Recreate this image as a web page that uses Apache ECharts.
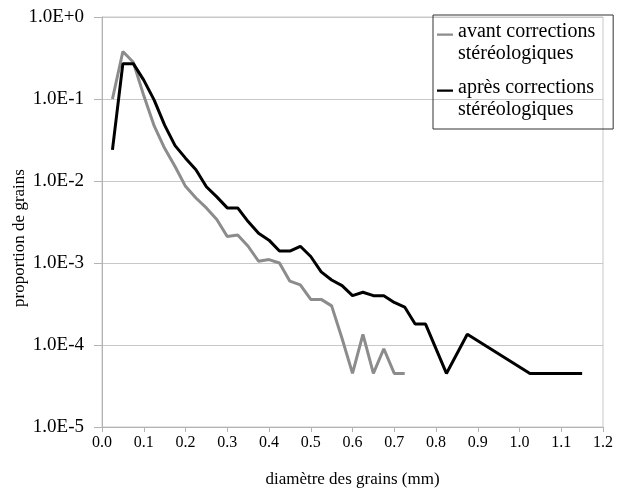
<!DOCTYPE html>
<html>
<head>
<meta charset="utf-8">
<script src="https://cdn.jsdelivr.net/npm/echarts@6/dist/echarts.min.js"></script>
<style>
  html, body { margin: 0; padding: 0; background: #fff; }
  #chart { width: 624px; height: 491px; }
</style>
</head>
<body>
<div id="chart"></div>
<script>
// grain diameter (mm) and proportion, before stereological corrections
const avantX = [0.025, 0.05, 0.075, 0.1, 0.125, 0.15, 0.175, 0.2, 0.225, 0.25, 0.275, 0.3, 0.325, 0.35, 0.375, 0.4, 0.425, 0.45, 0.475, 0.5, 0.525, 0.55, 0.575, 0.6, 0.625, 0.65, 0.675, 0.7, 0.725];
const avantY = [0.1, 0.38, 0.28, 0.11, 0.047, 0.025, 0.015, 0.0086, 0.0062, 0.0047, 0.0034, 0.0021, 0.0022, 0.0016, 0.00105, 0.0011, 0.001, 0.0006, 0.00054, 0.00036, 0.00036, 0.0003, 0.00012, 0.000045, 0.000135, 0.000045, 0.00009, 0.000045, 0.000045];

// after stereological corrections
const apresX = [0.025, 0.05, 0.075, 0.1, 0.125, 0.15, 0.175, 0.2, 0.225, 0.25, 0.275, 0.3, 0.325, 0.35, 0.375, 0.4, 0.425, 0.45, 0.475, 0.5, 0.525, 0.55, 0.575, 0.6, 0.625, 0.65, 0.675, 0.7, 0.725, 0.75, 0.775, 0.825, 0.875, 1.025, 1.15];
const apresY = [0.024, 0.27, 0.27, 0.17, 0.097, 0.048, 0.027, 0.019, 0.0137, 0.0085, 0.0064, 0.0047, 0.0047, 0.0032, 0.0023, 0.0019, 0.0014, 0.0014, 0.0016, 0.0012, 0.00078, 0.00062, 0.00053, 0.0004, 0.00044, 0.0004, 0.0004, 0.00033, 0.00029, 0.00018, 0.00018, 0.000045, 0.000135, 0.000045, 0.000045];

const seriesNames = ['avant corrections\nstéréologiques', 'après corrections\nstéréologiques'];

const font = 'Liberation Serif';

function pairs(xs, ys) {
  return xs.map((x, i) => [x, ys[i]]);
}

function sciLabel(v) {
  const e = Math.round(Math.log10(v));
  return '1.0E' + (e >= 0 ? '+' : '') + e;
}

const chart = echarts.init(document.getElementById('chart'));

chart.setOption({
  animation: false,
  backgroundColor: '#fff',
  grid: {
    left: 102, right: 21, top: 17, bottom: 64,
    outerBoundsMode: 'none',
    show: true, borderColor: '#c8c8c8', borderWidth: 1
  },
  legend: {
    orient: 'vertical',
    left: 433, top: 15,
    padding: [6, 18, 8, 4],
    itemGap: 12,
    itemWidth: 16,
    itemHeight: 44,
    // bar drawn near the top of the icon box so it lines up with the first text line
    icon: 'path://M0,0H0.01V0.01H0Z M0,10H20V13H0Z M0,44H0.01V44.01H0Z',
    borderColor: '#333', borderWidth: 1,
    textStyle: { fontFamily: font, fontSize: 20, lineHeight: 22, color: '#000' },
    data: seriesNames
  },
  xAxis: {
    type: 'value',
    min: 0, max: 1.2, interval: 0.1,
    name: 'diamètre des grains (mm)',
    nameLocation: 'middle',
    nameGap: 44,
    nameMoveOverlap: false,
    nameTextStyle: { fontFamily: font, fontSize: 17, color: '#000' },
    axisLine: { show: true, onZero: false, lineStyle: { color: '#b3b3b3' } },
    axisTick: { show: true, length: 5, lineStyle: { color: '#b3b3b3' } },
    axisLabel: { fontFamily: font, fontSize: 16, color: '#000', margin: 8,
      formatter: v => v.toFixed(1) },
    splitLine: { show: false }
  },
  yAxis: {
    type: 'log',
    logBase: 10,
    min: 1e-5, max: 1,
    name: 'proportion de grains',
    nameLocation: 'middle',
    nameGap: 74,
    nameMoveOverlap: false,
    nameTextStyle: { fontFamily: font, fontSize: 17, color: '#000', padding: [0, 32, 0, 0] },
    axisLine: { show: true, lineStyle: { color: '#b3b3b3' } },
    axisTick: { show: true, length: 8, lineStyle: { color: '#b3b3b3' } },
    axisLabel: { fontFamily: font, fontSize: 19, color: '#000', margin: 18,
      formatter: sciLabel },
    splitLine: { show: true, lineStyle: { color: '#c8c8c8', width: 1 } }
  },
  series: [
    {
      name: seriesNames[0],
      type: 'line',
      data: pairs(avantX, avantY),
      showSymbol: false,
      lineStyle: { color: '#8c8c8c', width: 3 },
      itemStyle: { color: '#8c8c8c' }
    },
    {
      name: seriesNames[1],
      type: 'line',
      data: pairs(apresX, apresY),
      showSymbol: false,
      lineStyle: { color: '#000', width: 3 },
      itemStyle: { color: '#000' }
    }
  ]
});
</script>
</body>
</html>
